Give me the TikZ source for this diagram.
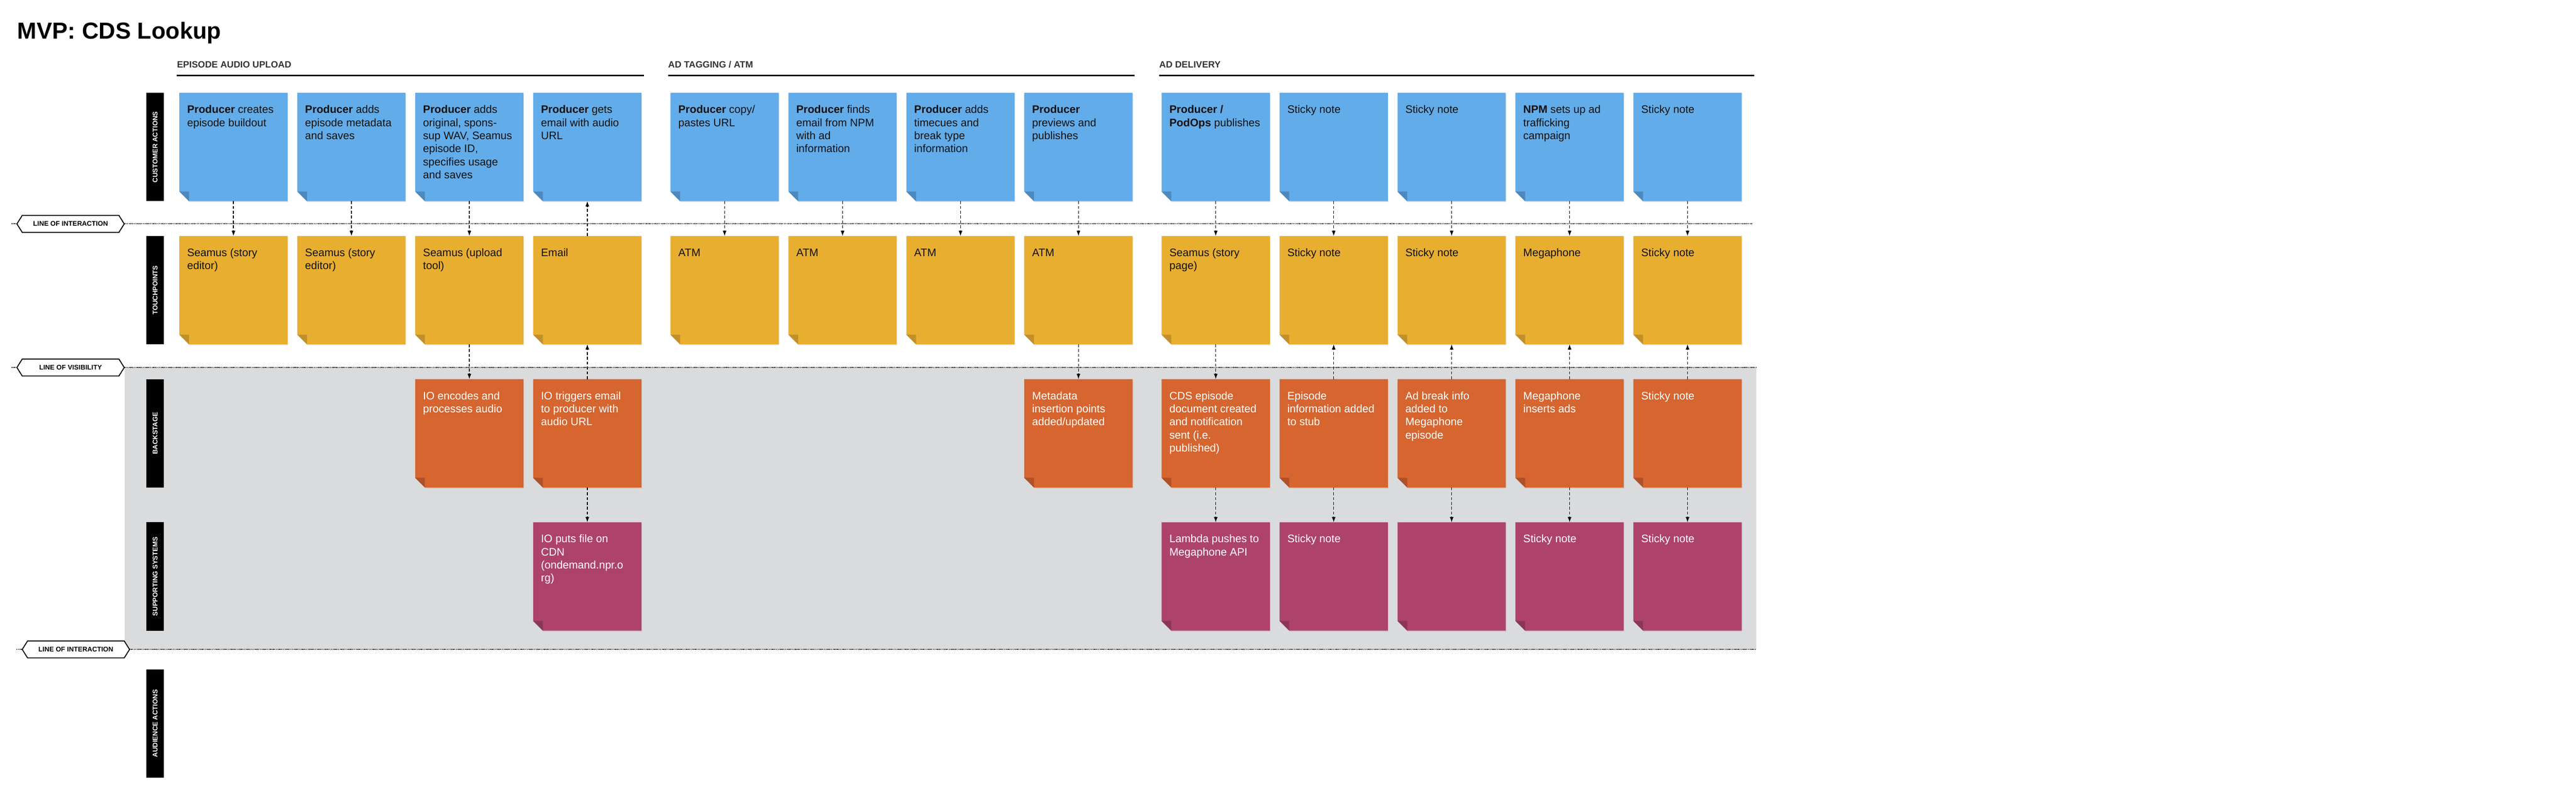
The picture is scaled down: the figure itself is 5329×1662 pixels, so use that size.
\documentclass[tikz,border=0pt]{standalone}
\usepackage{fontspec}
\setmainfont{Liberation Sans}
\usetikzlibrary{arrows.meta}
\definecolor{cblue}{HTML}{62ACE9}
\definecolor{cbluef}{HTML}{4E88BD}
\definecolor{cyel}{HTML}{E8AE30}
\definecolor{cyelf}{HTML}{C1902A}
\definecolor{corg}{HTML}{D6652F}
\definecolor{corgf}{HTML}{AF5129}
\definecolor{cmag}{HTML}{AE436A}
\definecolor{cmagf}{HTML}{8C3657}
\definecolor{cbg}{HTML}{DADBDD}
\definecolor{chead}{HTML}{333333}
\definecolor{ctxt}{HTML}{111111}
\tikzset{
 stbox/.style={minimum width=224pt, minimum height=224pt, inner sep=0pt, outer sep=0pt, draw=none},
 sttext/.style={anchor=north west, inner sep=0pt, align=left, font=\fontsize{22.5}{27}\selectfont},
 darr/.style={-{Latex[length=11pt,width=8pt]}, line width=1.5pt, dash pattern=on 6pt off 4pt},
 dotline/.style={line width=2pt, dash pattern=on 1.5pt off 1.5pt},
 lanebar/.style={fill=black, text=white, rotate=90, minimum width=224pt, minimum height=36pt, inner sep=0pt, font=\bfseries\fontsize{14}{14}\selectfont},
 hexlbl/.style={minimum width=222pt, minimum height=35pt, inner sep=0pt, outer sep=0pt, font=\bfseries\fontsize{14}{14}\selectfont},
 hexline/.style={draw=black, line width=2pt, fill=white, line join=miter},
 sechead/.style={anchor=base west, inner sep=0pt, text=chead, font=\bfseries\fontsize{19}{19}\selectfont},
 secline/.style={line width=3pt},
}
\newcommand{\stk}[7]{%
 \fill[black,opacity=0.10] (#2+1,#3+2) -- ++(224,0) -- ++(0,224) -- ++(-204,0) -- ++(-20,-20) -- cycle;
 \fill[#4] (#2,#3) -- ++(224,0) -- ++(0,224) -- ++(-204,0) -- ++(-20,-20) -- cycle;
 \fill[#5] (#2,#3+204) -- ++(20,0) -- ++(0,20) -- cycle;
 \node[stbox] (#1) at (#2+112,#3+112) {};
 \node[sttext, text=#6] (#1t) at (#2+16,#3+20) {\rule{0pt}{22pt}#7};
}
\newcommand{\hexlab}[5]{%
 \draw[hexline] (#2-111,#3) -- (#2-100,#3-17.5) -- (#2+100,#3-17.5) -- (#2+111,#3) -- (#2+100,#3+17.5) -- (#2-100,#3+17.5) -- cycle;
 \node[hexlbl] (#1) at (#2,#3) {#4};
 \coordinate (#1L) at (#2-123,#3);
 \coordinate (#1R) at (#5,#3);
 \draw[dotline] (#1L) -- (#1.west);
 \draw[dotline] (#1.east) -- (#1R);
}
\begin{document}
\begin{tikzpicture}[x=1pt,y=-1pt]
\useasboundingbox (0,0) rectangle (5329,1662);
% background of backstage / support zone
\fill[cbg] (258,760) rectangle (3633,1343);
% title
\node[anchor=base west, inner sep=0pt, font=\bfseries\fontsize{48}{48}\selectfont] (title) at (36,80) {MVP: CDS Lookup};
% section headers
\node[sechead] (sh1) at (366,140) {EPISODE AUDIO UPLOAD};
\node[sechead] (sh2) at (1382,140) {AD TAGGING / ATM};
\node[sechead] (sh3) at (2398,140) {AD DELIVERY};
\draw[secline] (366,156) -- (1332,156);
\draw[secline] (1382,156) -- (2347,156);
\draw[secline] (2398,156) -- (3629,156);
% lines
\hexlab{loi1}{146}{463}{LINE OF INTERACTION}{3626}
\hexlab{lov}{146}{760}{LINE OF VISIBILITY}{3633}
\hexlab{loi2}{157}{1343}{LINE OF INTERACTION}{3633}
% lane bars
\node[lanebar] (lca) at (321,304) {CUSTOMER ACTIONS};
\node[lanebar] (ltp) at (321,600) {TOUCHPOINTS};
\node[lanebar] (lbs) at (321,896) {BACKSTAGE};
\node[lanebar] (lss) at (321,1192) {SUPPORTING SYSTEMS};
\node[lanebar] (laa) at (321,1496) {AUDIENCE ACTIONS};
% customer actions
\stk{ca1}{371}{192}{cblue}{cbluef}{ctxt}{\textbf{Producer} creates\\episode buildout}
\stk{ca2}{615}{192}{cblue}{cbluef}{ctxt}{\textbf{Producer} adds\\episode metadata\\and saves}
\stk{ca3}{859}{192}{cblue}{cbluef}{ctxt}{\textbf{Producer} adds\\original, spons-\\sup WAV, Seamus\\episode ID,\\specifies usage\\and saves}
\stk{ca4}{1103}{192}{cblue}{cbluef}{ctxt}{\textbf{Producer} gets\\email with audio\\URL}
\stk{ca5}{1387}{192}{cblue}{cbluef}{ctxt}{\textbf{Producer} copy/\\pastes URL}
\stk{ca6}{1631}{192}{cblue}{cbluef}{ctxt}{\textbf{Producer} finds\\email from NPM\\with ad\\information}
\stk{ca7}{1875}{192}{cblue}{cbluef}{ctxt}{\textbf{Producer} adds\\timecues and\\break type\\information}
\stk{ca8}{2119}{192}{cblue}{cbluef}{ctxt}{\textbf{Producer}\\previews and\\publishes}
\stk{ca9}{2403}{192}{cblue}{cbluef}{ctxt}{\textbf{Producer /}\\\textbf{PodOps} publishes}
\stk{ca10}{2647}{192}{cblue}{cbluef}{ctxt}{Sticky note}
\stk{ca11}{2891}{192}{cblue}{cbluef}{ctxt}{Sticky note}
\stk{ca12}{3135}{192}{cblue}{cbluef}{ctxt}{\textbf{NPM} sets up ad\\trafficking\\campaign}
\stk{ca13}{3379}{192}{cblue}{cbluef}{ctxt}{Sticky note}
% touchpoints
\stk{tp1}{371}{488}{cyel}{cyelf}{ctxt}{Seamus (story\\editor)}
\stk{tp2}{615}{488}{cyel}{cyelf}{ctxt}{Seamus (story\\editor)}
\stk{tp3}{859}{488}{cyel}{cyelf}{ctxt}{Seamus (upload\\tool)}
\stk{tp4}{1103}{488}{cyel}{cyelf}{ctxt}{Email}
\stk{tp5}{1387}{488}{cyel}{cyelf}{ctxt}{ATM}
\stk{tp6}{1631}{488}{cyel}{cyelf}{ctxt}{ATM}
\stk{tp7}{1875}{488}{cyel}{cyelf}{ctxt}{ATM}
\stk{tp8}{2119}{488}{cyel}{cyelf}{ctxt}{ATM}
\stk{tp9}{2403}{488}{cyel}{cyelf}{ctxt}{Seamus (story\\page)}
\stk{tp10}{2647}{488}{cyel}{cyelf}{ctxt}{Sticky note}
\stk{tp11}{2891}{488}{cyel}{cyelf}{ctxt}{Sticky note}
\stk{tp12}{3135}{488}{cyel}{cyelf}{ctxt}{Megaphone}
\stk{tp13}{3379}{488}{cyel}{cyelf}{ctxt}{Sticky note}
% backstage
\stk{bs3}{859}{784}{corg}{corgf}{white}{IO encodes and\\processes audio}
\stk{bs4}{1103}{784}{corg}{corgf}{white}{IO triggers email\\to producer with\\audio URL}
\stk{bs8}{2119}{784}{corg}{corgf}{white}{Metadata\\insertion points\\added/updated}
\stk{bs9}{2403}{784}{corg}{corgf}{white}{CDS episode\\document created\\and notification\\sent (i.e.\\published)}
\stk{bs10}{2647}{784}{corg}{corgf}{white}{Episode\\information added\\to stub}
\stk{bs11}{2891}{784}{corg}{corgf}{white}{Ad break info\\added to\\Megaphone\\episode}
\stk{bs12}{3135}{784}{corg}{corgf}{white}{Megaphone\\inserts ads}
\stk{bs13}{3379}{784}{corg}{corgf}{white}{Sticky note}
% supporting systems
\stk{ss4}{1103}{1080}{cmag}{cmagf}{white}{IO puts file on\\CDN\\(ondemand.npr.o\\rg)}
\stk{ss9}{2403}{1080}{cmag}{cmagf}{white}{Lambda pushes to\\Megaphone API}
\stk{ss10}{2647}{1080}{cmag}{cmagf}{white}{Sticky note}
\stk{ss11}{2891}{1080}{cmag}{cmagf}{white}{}
\stk{ss12}{3135}{1080}{cmag}{cmagf}{white}{Sticky note}
\stk{ss13}{3379}{1080}{cmag}{cmagf}{white}{Sticky note}
% connectors customer -> touchpoints
\draw[darr] (ca1.south) -- (tp1.north);
\draw[darr] (ca2.south) -- (tp2.north);
\draw[darr] (ca3.south) -- (tp3.north);
\draw[darr] (tp4.north) -- (ca4.south);
\draw[darr] (ca5.south) -- (tp5.north);
\draw[darr] (ca6.south) -- (tp6.north);
\draw[darr] (ca7.south) -- (tp7.north);
\draw[darr] (ca8.south) -- (tp8.north);
\draw[darr] (ca9.south) -- (tp9.north);
\draw[darr] (ca10.south) -- (tp10.north);
\draw[darr] (ca11.south) -- (tp11.north);
\draw[darr] (ca12.south) -- (tp12.north);
\draw[darr] (ca13.south) -- (tp13.north);
% touchpoints <-> backstage
\draw[darr] (tp3.south) -- (bs3.north);
\draw[darr] (bs4.north) -- (tp4.south);
\draw[darr] (tp8.south) -- (bs8.north);
\draw[darr] (tp9.south) -- (bs9.north);
\draw[darr] (bs10.north) -- (tp10.south);
\draw[darr] (bs11.north) -- (tp11.south);
\draw[darr] (bs12.north) -- (tp12.south);
\draw[darr] (bs13.north) -- (tp13.south);
% backstage -> supporting
\draw[darr] (bs4.south) -- (ss4.north);
\draw[darr] (bs9.south) -- (ss9.north);
\draw[darr] (bs10.south) -- (ss10.north);
\draw[darr] (bs11.south) -- (ss11.north);
\draw[darr] (bs12.south) -- (ss12.north);
\draw[darr] (bs13.south) -- (ss13.north);
\end{tikzpicture}
\end{document}
